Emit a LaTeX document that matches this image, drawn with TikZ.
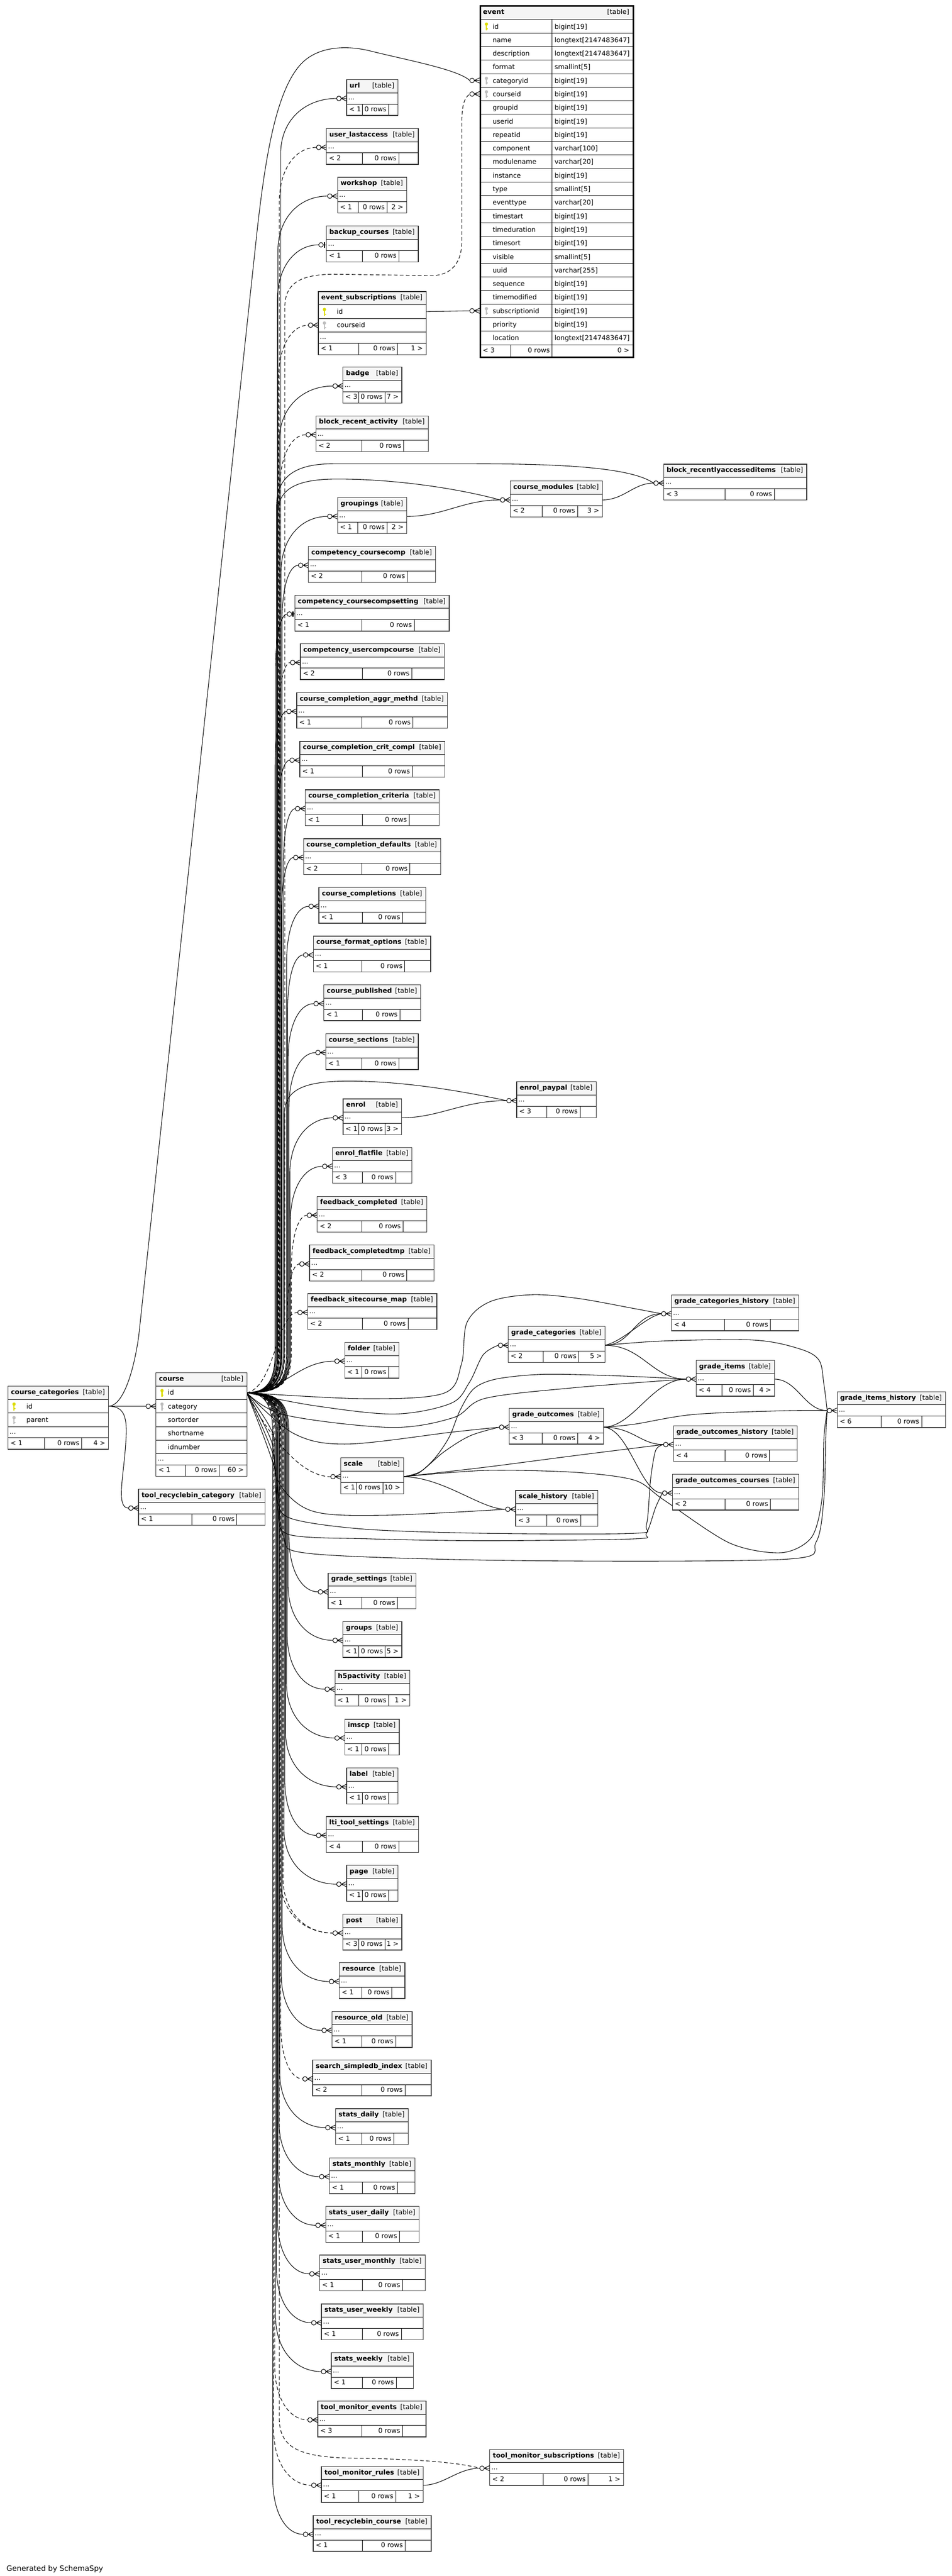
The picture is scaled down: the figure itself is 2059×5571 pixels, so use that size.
\documentclass[tikz,border=0pt]{standalone}
\usepackage{fontspec}
\setmainfont{DejaVu Sans}
\usetikzlibrary{calc}
\pgfdeclarelayer{back}
\pgfdeclarelayer{bg}
\pgfsetlayers{back,bg,main}
\definecolor{pkc}{RGB}{220,220,0}
\definecolor{fkc}{RGB}{190,190,190}
\tikzset{
  conn/.style={line width=1.2pt, draw=black},
  impl/.style={dash pattern=on 8pt off 5pt},
  tframe/.style={draw=black!80, line width=1.5pt, inner sep=0pt},
  tline/.style={draw=black, line width=1.1pt},
  hdr/.style={fill=black!4},
  txt/.style={inner sep=0pt, font=\fontsize{14.4}{17}\selectfont},
}
% small table: id, L, T, R, title, split1, split2, left footer, right footer
\newcommand\stbl[9]{%
  \pgfmathsetmacro\tbH{#3+29.3}%
  \pgfmathsetmacro\tbR{#3+53.7}%
  \pgfmathsetmacro\tbB{#3+77.5}%
  \pgfmathsetmacro\tbM{#3+41.5}%
  \pgfmathsetmacro\tbW{#4-#2}%
  \fill[white] (#2,#3) rectangle (#4,\tbB);
  \fill[hdr] (#2,#3) rectangle (#4,\tbH);
  \draw[tline] (#2,\tbH) -- (#4,\tbH) (#2,\tbR) -- (#4,\tbR) (#6,\tbR) -- (#6,\tbB) (#7,\tbR) -- (#7,\tbB);
  \node[tframe, anchor=north west, minimum width={\tbW*1pt}, minimum height=77.5pt] (#1) at (#2,#3) {};
  \node[txt, anchor=base west] at (#2+7,#3+18.3) {\bfseries #5};
  \node[txt, anchor=base east] at (#4-7,#3+18.3) {[table]};
  \node[txt, anchor=base west] at (#2+4,#3+44) {...};
  \node[txt, anchor=base west] at (#2+6,#3+70) {#8};
  \node[txt, anchor=base east] at (#7-5,#3+70) {0 rows};
  \node[txt, anchor=base east] at (#4-6,#3+70) {#9};
  \coordinate (#1-w) at (#2,\tbM);
  \coordinate (#1-e) at (#4,\tbM);
  \coordinate (#1-in) at (#2-21,\tbM);
  \coordinate (#1-io) at (#2-16,\tbM);
}
\newcommand\pkey[3]{%
  \fill[#3] (#1,#2+10) circle[radius=3.6pt];
  \fill[#3] (#1-1.3,#2+12) rectangle (#1+1.3,#2+23.5);
  \fill[#3] (#1+1.3,#2+19) rectangle (#1+3.2,#2+21);}
\newcommand\crow[1]{%
  \draw[conn, fill=white] ($(#1-w)+(-16,0)$) circle[radius=5pt];
  \draw[conn] ($(#1-w)+(-11,0)$) -- (#1-w) ($(#1-w)+(-11,0)$) -- ($(#1-w)+(0,-5.5)$) ($(#1-w)+(-11,0)$) -- ($(#1-w)+(0,5.5)$);}
\newcommand\crowone[1]{%
  \draw[conn, fill=white] ($(#1-w)+(-11,0)$) circle[radius=5pt];
  \draw[conn] ($(#1-w)+(-6,0)$) -- (#1-w);
  \draw[line width=2.6pt] ($(#1-w)+(-3.5,-6)$) -- ($(#1-w)+(-3.5,6)$);}
\newcommand\upedge[3][]{%
  \draw[conn,#1] let \p1=(#2) in (course-id)
   .. controls ({(#3-22)*1pt},-3012pt) and ({#3*1pt},-2992pt) .. ({#3*1pt},-2925pt)
   -- ({#3*1pt},{\y1-120pt})
   .. controls ({#3*1pt},{\y1-45pt}) and ({#3*1pt+0.45*(\x1-#3*1pt)},\y1) .. (#2);}
\newcommand\downedge[3][]{%
  \draw[conn,#1] let \p1=(#2) in (course-id)
   .. controls ({(#3-22)*1pt},-3012pt) and ({#3*1pt},-3032pt) .. ({#3*1pt},-3099pt)
   -- ({#3*1pt},{\y1+120pt})
   .. controls ({#3*1pt},{\y1+45pt}) and ({#3*1pt+0.45*(\x1-#3*1pt)},\y1) .. (#2);}
\begin{document}
\begin{tikzpicture}[x=1pt,y=-1pt]
\useasboundingbox (0,0) rectangle (2059,5571);
\begin{pgfonlayer}{back}
\fill[white] (0,0) rectangle (2059,5571);
\end{pgfonlayer}

% ---------------- event ----------------
\fill[white] (1037,11.2) rectangle (1368,771.2);
\fill[hdr] (1037,11.2) rectangle (1368,42.2);
\foreach \nm/\tp [count=\i from 0] in {id/bigint[19],name/longtext[2147483647],description/longtext[2147483647],format/smallint[5],categoryid/bigint[19],courseid/bigint[19],groupid/bigint[19],userid/bigint[19],repeatid/bigint[19],component/varchar[100],modulename/varchar[20],instance/bigint[19],type/smallint[5],eventtype/varchar[20],timestart/bigint[19],timeduration/bigint[19],timesort/bigint[19],visible/smallint[5],uuid/varchar[255],sequence/bigint[19],timemodified/bigint[19],subscriptionid/bigint[19],priority/bigint[19],location/longtext[2147483647]}{
  \pgfmathsetmacro\rt{42.2+29.3*\i}
  \draw[tline] (1037,\rt) -- (1368,\rt);
  \node[txt,anchor=base west] at (1065.3,\rt+20.2) {\nm};
  \node[txt,anchor=base west] at (1199.3,\rt+20.2) {\tp};
}
\draw[tline] (1037,745.4) -- (1368,745.4) (1194.3,42.2) -- (1194.3,771.2) (1105,745.4) -- (1105,771.2);
\node[txt,anchor=base west] at (1044.5,30.5) {\bfseries event};
\node[txt,anchor=base east] at (1361,31) {[table]};
\node[txt,anchor=base west] at (1044,762.8) {< 3};
\node[txt,anchor=base east] at (1189.3,762.8) {0 rows};
\node[txt,anchor=base east] at (1361.5,762.8) {0 >};
\node[draw=black, line width=3.5pt, inner sep=0pt, minimum width=331pt, minimum height=760pt, anchor=north west] (ev) at (1037,11.2) {};
\pkey{1052}{42.2}{pkc}
\pkey{1052}{159.4}{fkc}
\pkey{1052}{188.7}{fkc}
\pkey{1052}{657.5}{fkc}
\coordinate (ev-cat-w) at (1037,174.05);
\coordinate (ev-cat-in) at (1016,174.05);
\coordinate (ev-cid-w) at (1037,203.35);
\coordinate (ev-cid-in) at (1016,203.35);
\coordinate (ev-sub-w) at (1037,672.15);
\coordinate (ev-sub-in) at (1016,672.15);

% ---------------- course ----------------
\fill[white] (336.6,2967.7) rectangle (533.5,3192);
\fill[hdr] (336.6,2967.7) rectangle (533.5,2997.3);
\foreach \nm [count=\i from 0] in {id,category,sortorder,shortname,idnumber}{
  \pgfmathsetmacro\rt{2997.3+29.3*\i}
  \draw[tline] (336.6,\rt) -- (533.5,\rt);
  \node[txt,anchor=base west] at (363,\rt+19.8) {\nm};
}
\draw[tline] (336.6,3143.8) -- (533.5,3143.8) (336.6,3168) -- (533.5,3168) (401.8,3168) -- (401.8,3192) (474.1,3168) -- (474.1,3192);
\node[txt,anchor=base west] at (343.6,2986.5) {\bfseries course};
\node[txt,anchor=base east] at (526.5,2986.5) {[table]};
\node[txt,anchor=base west] at (340.6,3159.5) {...};
\node[txt,anchor=base west] at (342.6,3184.3) {< 1};
\node[txt,anchor=base east] at (469.1,3184.3) {0 rows};
\node[txt,anchor=base east] at (527.5,3184.3) {60 >};
\node[tframe, minimum width=196.9pt, minimum height=224.3pt, anchor=north west] (crs) at (336.6,2967.7) {};
\pkey{350.4}{2997.3}{pkc}
\pkey{350.4}{3026.6}{fkc}
\coordinate (course-id) at (533.5,3011.95);
\coordinate (crs-cat-w) at (336.6,3041.25);
\coordinate (crs-cat-in) at (315.6,3041.25);

% ---------------- course_categories ----------------
\fill[white] (16.5,2997.3) rectangle (234,3133.3);
\fill[hdr] (16.5,2997.3) rectangle (234,3026.6);
\draw[tline] (16.5,3026.6) -- (234,3026.6) (16.5,3055.9) -- (234,3055.9) (16.5,3085.2) -- (234,3085.2) (16.5,3109.4) -- (234,3109.4) (96.4,3109.4) -- (96.4,3133.3) (176.8,3109.4) -- (176.8,3133.3);
\node[txt,anchor=base west] at (23.5,3016) {\bfseries course\_categories};
\node[txt,anchor=base east] at (227,3016) {[table]};
\node[txt,anchor=base west] at (57,3046.4) {id};
\node[txt,anchor=base west] at (57,3075.7) {parent};
\node[txt,anchor=base west] at (20.5,3101) {...};
\node[txt,anchor=base west] at (22.5,3125.5) {< 1};
\node[txt,anchor=base east] at (171.8,3125.5) {0 rows};
\node[txt,anchor=base east] at (228,3125.5) {4 >};
\node[tframe, minimum width=217.5pt, minimum height=136pt, anchor=north west] (cc) at (16.5,2997.3) {};
\pkey{30.4}{3026.6}{pkc}
\pkey{30.4}{3055.9}{fkc}
\coordinate (cc-id-e) at (234,3041.25);

% ---------------- event_subscriptions ----------------
\fill[white] (687.7,630) rectangle (921,766.1);
\fill[hdr] (687.7,630) rectangle (921,659.3);
\draw[tline] (687.7,659.3) -- (921,659.3) (687.7,688.6) -- (921,688.6) (687.7,717.9) -- (921,717.9) (687.7,742.3) -- (921,742.3) (775.7,742.3) -- (775.7,766.1) (860,742.3) -- (860,766.1);
\node[txt,anchor=base west] at (694.7,648.3) {\bfseries event\_subscriptions};
\node[txt,anchor=base east] at (914,648.3) {[table]};
\node[txt,anchor=base west] at (728.3,679.1) {id};
\node[txt,anchor=base west] at (728.3,708.4) {courseid};
\node[txt,anchor=base west] at (691.7,733.5) {...};
\node[txt,anchor=base west] at (693.7,758.6) {< 1};
\node[txt,anchor=base east] at (855,758.6) {0 rows};
\node[txt,anchor=base east] at (915,758.6) {1 >};
\node[tframe, minimum width=233.3pt, minimum height=136.1pt, anchor=north west] (evs) at (687.7,630) {};
\pkey{701.7}{659.3}{pkc}
\pkey{701.7}{688.6}{fkc}
\coordinate (evs-id-e) at (921,673.95);
\coordinate (evs-cid-w) at (687.7,703.25);
\coordinate (evs-cid-in) at (666.7,703.25);

% ---------------- small tables ----------------
\stbl{url}{749}{171.4}{860}{url}{784}{841}{< 1}{}
\stbl{ula}{705.3}{277.2}{904}{user\_lastaccess}{784}{862.7}{< 2}{}
\stbl{wks}{729.3}{382.6}{878.7}{workshop}{775}{837.3}{< 1}{2 >}
\stbl{bkc}{705.3}{488}{904}{backup\_courses}{784}{862.7}{< 1}{}
\stbl{bdg}{741}{793.3}{868.3}{badge}{776}{832.7}{< 3}{7 >}
\stbl{bra}{682.7}{898.6}{925.7}{block\_recent\_activity}{782.3}{873.3}{< 2}{}
\stbl{grp}{729.3}{1075.3}{879}{groupings}{774.3}{837.3}{< 1}{2 >}
\stbl{cmod}{1103}{1039.7}{1302.3}{course\_modules}{1173}{1249}{< 2}{3 >}
\stbl{brai}{1434.8}{1003.3}{1744}{block\_recentlyaccesseditems}{1568}{1674.8}{< 3}{}
\stbl{ccc}{666.3}{1181}{941.3}{competency\_coursecomp}{782.3}{881.3}{< 2}{}
\stbl{cccs}{637}{1286.5}{971}{competency\_coursecompsetting}{782.3}{896}{< 1}{}
\stbl{cuc}{649}{1391.3}{960}{competency\_usercompcourse}{783.7}{890.7}{< 2}{}
\stbl{ccam}{641}{1497}{967}{course\_completion\_aggr\_methd}{782.3}{893.3}{< 1}{}
\stbl{cccc}{647.7}{1602.5}{961.3}{course\_completion\_crit\_compl}{783.7}{892}{< 1}{}
\stbl{ccr}{659.7}{1707.3}{949.3}{course\_completion\_criteria}{783.7}{885.3}{< 1}{}
\stbl{ccd}{655.7}{1813}{952.3}{course\_completion\_defaults}{782.3}{886.7}{< 2}{}
\stbl{ccpl}{689}{1918.5}{920.3}{course\_completions}{783.7}{870.7}{< 1}{}
\stbl{cfo}{677}{2023.7}{930.7}{course\_format\_options}{782.3}{875.7}{< 1}{}
\stbl{cpub}{699.7}{2129}{909.3}{course\_published}{783.7}{865}{< 1}{}
\stbl{csec}{703.7}{2234.8}{904}{course\_sections}{782.3}{862.7}{< 1}{}
\stbl{enr}{741.3}{2375.9}{867.9}{enrol}{776}{833.2}{< 1}{3 >}
\stbl{enp}{1116.8}{2338.8}{1288.8}{enrol\_paypal}{1182.7}{1254.6}{< 3}{}
\stbl{enf}{718.4}{2480.8}{890.3}{enrol\_flatfile}{784.2}{856.1}{< 3}{}
\stbl{fbc}{685.2}{2586.6}{922.4}{feedback\_completed}{782.7}{872}{< 2}{}
\stbl{fbct}{668.9}{2692}{938.3}{feedback\_completedtmp}{782.7}{880.1}{< 2}{}
\stbl{fscm}{664.8}{2796.9}{943.9}{feedback\_sitecourse\_map}{784.2}{882.7}{< 2}{}
\stbl{fld}{744.9}{2902.2}{862.2}{folder}{782.7}{840.8}{< 1}{}
\stbl{gc}{1098.5}{2867.9}{1308.2}{grade\_categories}{1174.5}{1252}{< 2}{5 >}
\stbl{gch}{1451.5}{2799.6}{1727}{grade\_categories\_history}{1567.4}{1666.5}{< 4}{}
\stbl{gi}{1505}{2941}{1674.2}{grade\_items}{1561.6}{1629.2}{< 4}{4 >}
\stbl{gih}{1810}{3009}{2044.2}{grade\_items\_history}{1905.9}{1993.4}{< 6}{}
\stbl{go}{1100.8}{3045}{1304.2}{grade\_outcomes}{1172.9}{1249.5}{< 3}{4 >}
\stbl{goh}{1456}{3082.5}{1723.7}{grade\_outcomes\_history}{1568.7}{1664.5}{< 4}{}
\stbl{goc}{1453.5}{3187.5}{1727}{grade\_outcomes\_courses}{1568.7}{1666.5}{< 2}{}
\stbl{scl}{736.2}{3152}{872.1}{scale}{770.7}{828}{< 1}{10 >}
\stbl{sh}{1114.4}{3222.5}{1292}{scale\_history}{1182.6}{1256}{< 3}{}
\stbl{trca}{299}{3220}{572.3}{tool\_recyclebin\_category}{415.2}{512.5}{< 1}{}
\stbl{gs}{709}{3401.1}{899}{grade\_settings}{782.7}{860}{< 1}{}
\stbl{grps}{741}{3506}{868.3}{groups}{776}{833.3}{< 1}{5 >}
\stbl{h5p}{723.7}{3611.6}{885.7}{h5pactivity}{776}{841}{< 1}{1 >}
\stbl{ims}{745}{3717.2}{862.7}{imscp}{782.7}{841}{< 1}{}
\stbl{lbl}{749}{3822.8}{860.3}{label}{784}{841}{< 1}{}
\stbl{lti}{705}{3927.7}{904.3}{lti\_tool\_settings}{784}{862.7}{< 4}{}
\stbl{pg}{749}{4033.3}{860.3}{page}{784}{841}{< 1}{}
\stbl{pst}{741}{4139}{868.3}{post}{776}{832.7}{< 3}{1 >}
\stbl{res}{733}{4243.8}{875}{resource}{782.7}{847.7}{< 1}{}
\stbl{reso}{717}{4349.4}{890.7}{resource\_old}{782.7}{856}{< 1}{}
\stbl{ssi}{675.7}{4454.4}{931.7}{search\_simpledb\_index}{782.4}{876}{< 2}{}
\stbl{sd}{725}{4559.8}{882.3}{stats\_daily}{782.4}{851.9}{< 1}{}
\stbl{sm}{711.8}{4665.8}{896.7}{stats\_monthly}{783.6}{860}{< 1}{}
\stbl{sud}{703.8}{4771}{905.3}{stats\_user\_daily}{783.6}{864}{< 1}{}
\stbl{sum}{690.6}{4876}{919}{stats\_user\_monthly}{783.6}{870.8}{< 1}{}
\stbl{suw}{694.6}{4981.8}{914.5}{stats\_user\_weekly}{783.6}{868}{< 1}{}
\stbl{sw}{715.8}{5087.3}{893.2}{stats\_weekly}{783.6}{857}{< 1}{}
\stbl{tme}{686.6}{5191.8}{920.8}{tool\_monitor\_events}{782.4}{870.8}{< 3}{}
\stbl{tms}{1058.6}{5296.4}{1347.9}{tool\_monitor\_subscriptions}{1174.5}{1272}{< 2}{1 >}
\stbl{tmr}{694.6}{5333.2}{914.5}{tool\_monitor\_rules}{776.1}{855.9}{< 1}{1 >}
\stbl{trco}{676.8}{5439.3}{931.7}{tool\_recyclebin\_course}{783.6}{876.6}{< 1}{}

\node[txt, anchor=base west, font=\fontsize{16}{19}\selectfont] (gen) at (14,5560) {Generated by SchemaSpy};

% ---------------- connectors ----------------
\begin{pgfonlayer}{bg}
% course_categories
\draw[conn] (cc-id-e) -- (crs-cat-in);
\draw[conn] (cc-id-e) .. controls (270,3041) and (276,3065) .. (272,3120) .. controls (268,3190) and (250,3261.5) .. (trca-in);
\draw[conn] (cc-id-e) .. controls (268,3041) and (290,2960) .. (300,2890) -- (556,500) .. controls (575,330) and (600,180) .. (660,130) .. controls (700,97) and (760,100) .. (800,110) .. controls (880,130) and (990,150) .. (ev-cat-in);
% event_subscriptions -> event
\draw[conn] (evs-id-e) -- (ev-sub-in);
% course -> event (implied)
\draw[conn,impl] (course-id) .. controls (594,3012) and (616,2992) .. (616,2925) -- (616,665) .. controls (616,612) and (650,594) .. (720,593) -- (930,596) .. controls (975,597) and (999,570) .. (999,520) -- (999,262) .. controls (999,228) and (1004,212) .. (ev-cid-in);
% course -> upper column
\upedge{url-in}{607}
\upedge[impl]{ula-in}{604}
\upedge{wks-in}{601}
\upedge{bkc-io}{600}
\upedge[impl]{evs-cid-in}{602}
\upedge{bdg-in}{604}
\upedge[impl]{bra-in}{605}
\upedge{grp-in}{608}
\upedge{ccc-in}{610}
\upedge{cccs-io}{596}
\upedge[impl]{cuc-in}{603}
\upedge{ccam-in}{595}
\upedge{cccc-in}{601}
\upedge{ccr-in}{613}
\upedge{ccd-in}{609}
\upedge{ccpl-in}{620}
\upedge{cfo-in}{622}
\upedge{cpub-in}{623}
\upedge{csec-in}{625}
\upedge{enr-in}{627}
\upedge{enf-in}{628}
\upedge[impl]{fbc-in}{630}
\upedge[impl]{fbct-in}{620}
\draw[conn,impl] (course-id) .. controls (595,3000) and (598,2838.4) .. (fscm-in);
\draw[conn] (course-id) .. controls (620,3005) and (645,2943.7) .. (fld-in);
% course -> course_modules, block_recentlyaccesseditems, enrol_paypal
\draw[conn] (course-id) .. controls (579,3012) and (601,2992) .. (601,2925) -- (601,1110) .. controls (601,1055) and (645,1036) .. (730,1036) .. controls (850,1036) and (985,1055) .. (cmod-in);
\draw[conn] (course-id) .. controls (576,3012) and (598,2992) .. (598,2925) -- (598,1095) .. controls (598,1030) and (640,1003) .. (720,1003) -- (1030,1003) .. controls (1250,1003) and (1370,1015) .. (brai-in);
\draw[conn] (course-id) .. controls (593,3012) and (615,2992) .. (615,2925) -- (615,2410) .. controls (615,2355) and (660,2338) .. (754,2338) .. controls (880,2338) and (1010,2362) .. (enp-in);
\draw[conn] (grp-e) .. controls (960,1116.8) and (1000,1081.2) .. (cmod-in);
\draw[conn] (cmod-e) .. controls (1350,1081.2) and (1370,1044.8) .. (brai-in);
\draw[conn] (enr-e) .. controls (950,2417.4) and (1000,2380.3) .. (enp-in);
% course -> grade tables
\draw[conn] plot[smooth,tension=0.55] coordinates {(course-id) (790,3025) (960,3013) (998,2950) (1010,2860) (1060,2815) (1150,2800) (1250,2808) (1372,2830) (gch-in)};
\draw[conn] plot[smooth,tension=0.55] coordinates {(course-id) (680,3040) (853,3058) (975,3035) (1015,2990) (1045,2930) (gc-in)};
\draw[conn] plot[smooth,tension=0.55] coordinates {(course-id) (616,3060) (845,3087) (980,3066) (1050,3024) (1243,3001) (gi-in)};
\draw[conn] plot[smooth,tension=0.55] coordinates {(course-id) (635,3100) (750,3123) (979,3097) (go-in)};
\draw[conn] plot[smooth,tension=0.55] coordinates {(course-id) (590,3100) (600,3200) (673,3267) (826,3277) (sh-in)};
\draw[conn] plot[smooth,tension=0.5] coordinates {(course-id) (588,3120) (598,3233) (627,3283) (788,3307) (1050,3316) (1372,3316) (1398,3298) (1407,3200) (1418,3137) (goh-in)};
\draw[conn] plot[smooth,tension=0.5] coordinates {(course-id) (592,3150) (601,3260) (623,3318) (800,3328) (1050,3332) (1372,3328) (1398,3316) (1418,3260) (goc-in)};
\draw[conn] plot[smooth,tension=0.5] coordinates {(course-id) (595,3180) (612,3320) (673,3360) (1120,3375) (1700,3372) (1765,3335) (1782,3240) (1786,3110) (gih-in)};
% course -> scale
\draw[conn,impl] (course-id) .. controls (565,3075) and (640,3193.5) .. (scl-in);
% scale -> grade tables
\draw[conn] plot[smooth,tension=0.5] coordinates {(scl-e) (905,3186) (941,3153) (972,3107) (995,3050) (1025,3003) (1075,2982) (1180,2972) (1350,2976) (gi-in)};
\draw[conn] plot[smooth,tension=0.55] coordinates {(scl-e) (910,3182) (960,3140) (1017,3105) (go-in)};
\draw[conn] plot[smooth,tension=0.55] coordinates {(scl-e) (1050,3173) (1243,3148) (goh-in)};
\draw[conn] plot[smooth,tension=0.5] coordinates {(scl-e) (1050,3180) (1243,3184) (1372,3201) (1436,3244) (1578,3337) (1690,3358) (1755,3325) (1778,3240) (1782,3110) (gih-in)};
\draw[conn] (scl-e) .. controls (960,3195) and (1040,3264) .. (sh-in);
% grade internal
\draw[conn] (gc-e) .. controls (1365,2909.4) and (1372,2841.1) .. (gch-in);
\draw[conn] (gc-e) .. controls (1350,2900) and (1395,2848) .. (gch-in);
\draw[conn] (gc-e) .. controls (1390,2909.4) and (1410,2982.5) .. (gi-in);
\draw[conn] plot[smooth,tension=0.55] coordinates {(gc-e) (1436,2900) (1629,2898) (1726,2916) (1771,2941) (1782,2994) (gih-in)};
\draw[conn] (gi-e) .. controls (1725,2982.5) and (1740,3050.5) .. (gih-in);
\draw[conn] (go-e) .. controls (1370,3086.5) and (1410,2982.5) .. (gi-in);
\draw[conn] plot[smooth,tension=0.55] coordinates {(go-e) (1372,3080) (1500,3059) (1693,3051) (gih-in)};
\draw[conn] (go-e) .. controls (1370,3086.5) and (1385,3124) .. (goh-in);
\draw[conn] (go-e) .. controls (1360,3086.5) and (1385,3229) .. (goc-in);
% course -> lower column
\downedge{gs-in}{625}
\downedge{grps-in}{623}
\downedge{h5p-in}{621}
\downedge{ims-in}{619.5}
\downedge{lbl-in}{617.5}
\downedge{lti-in}{616}
\downedge{pg-in}{614}
\downedge[impl]{pst-in}{612}
\downedge[impl]{pst-in}{606}
\downedge{res-in}{610.5}
\downedge{reso-in}{608.5}
\downedge[impl]{ssi-in}{607}
\downedge{sd-in}{605}
\downedge{sm-in}{603.3}
\downedge{sud-in}{601.5}
\downedge{sum-in}{599.7}
\downedge{suw-in}{597.8}
\downedge{sw-in}{596}
\downedge[impl]{tme-in}{594}
\downedge[impl]{tmr-in}{592}
\downedge{trco-in}{590}
\draw[conn,impl] (course-id) .. controls (584,3012) and (604,3032) .. (604,3099) -- (604,5230) .. controls (604,5295) and (650,5314) .. (760,5316) .. controls (900,5318) and (990,5325) .. (tms-in);
\draw[conn] (tmr-e) .. controls (960,5374.7) and (990,5337.9) .. (tms-in);
\end{pgfonlayer}

% ---------------- markers ----------------
\crow{ev-cat}\crow{ev-cid}\crow{ev-sub}\crow{crs-cat}\crow{evs-cid}
\crow{url}\crow{ula}\crow{wks}\crowone{bkc}\crow{bdg}\crow{bra}\crow{grp}\crow{cmod}\crow{brai}
\crow{ccc}\crowone{cccs}\crow{cuc}\crow{ccam}\crow{cccc}\crow{ccr}\crow{ccd}\crow{ccpl}\crow{cfo}
\crow{cpub}\crow{csec}\crow{enr}\crow{enp}\crow{enf}\crow{fbc}\crow{fbct}\crow{fscm}\crow{fld}
\crow{gc}\crow{gch}\crow{gi}\crow{gih}\crow{go}\crow{goh}\crow{goc}\crow{scl}\crow{sh}\crow{trca}
\crow{gs}\crow{grps}\crow{h5p}\crow{ims}\crow{lbl}\crow{lti}\crow{pg}\crow{pst}\crow{res}\crow{reso}
\crow{ssi}\crow{sd}\crow{sm}\crow{sud}\crow{sum}\crow{suw}\crow{sw}\crow{tme}\crow{tms}\crow{tmr}\crow{trco}
\end{tikzpicture}
\end{document}
